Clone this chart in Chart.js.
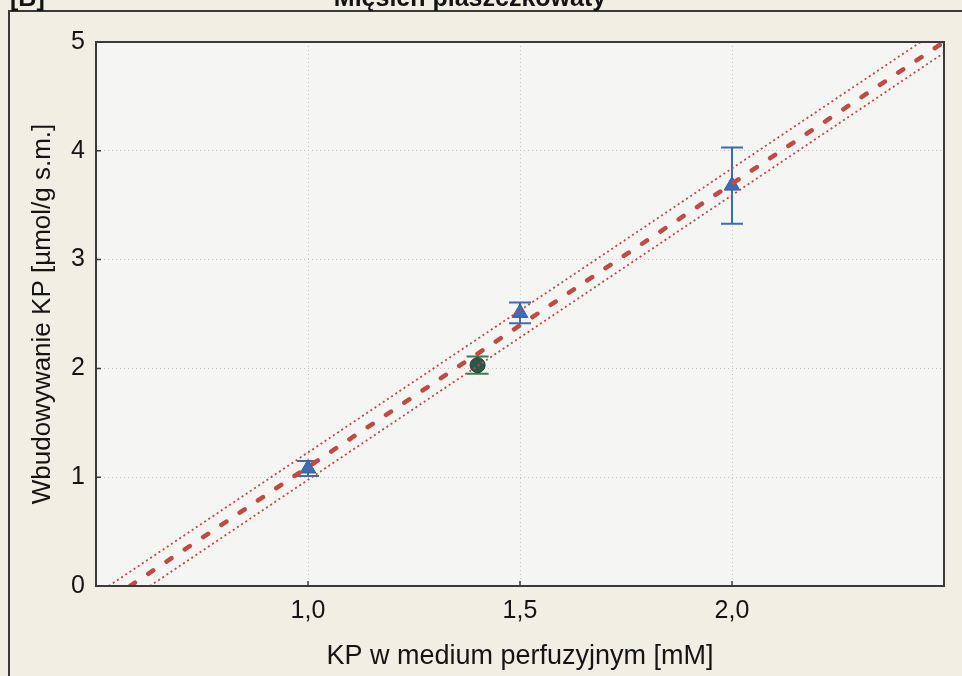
<!DOCTYPE html>
<html><head><meta charset="utf-8">
<script src="https://cdn.jsdelivr.net/npm/chart.js@4.4.1/dist/chart.umd.min.js"></script>
<style>html,body{margin:0;padding:0;background:#f1eee4;}canvas{display:block;}</style>
</head><body>
<canvas id="c" width="962" height="676"></canvas>
<script>
// ---- texts ----
const panelLabel = "[B]";
const chartTitle = "Mięsień płaszczkowaty";
const xAxisTitle = "KP w medium perfuzyjnym [mM]";
const yAxisTitle = "Wbudowywanie KP [µmol/g s.m.]";
// ---- ticks ----
const xTickValues = [1.0, 1.5, 2.0];
const yTickValues = [0, 1, 2, 3, 4, 5];
// ---- data: triangles (mean ± error) ----
const triX = [1.0, 1.5, 2.0];
const triY = [1.08, 2.51, 3.68];
const triErr = [0.07, 0.095, 0.35];
// ---- data: circle ----
const circX = [1.4];
const circY = [2.03];
const circErr = [0.08];
// ---- regression line and confidence band (end points) ----
const fitX = [0.58, 2.5];
const fitY = [0.0, 5.0];
const upperX = [0.53, 2.445];
const upperY = [0.0, 5.0];
const lowerX = [0.627, 2.5];
const lowerY = [0.0, 4.9];

const pts = (xs, ys) => xs.map((x, i) => ({x: x, y: ys[i]}));
const FONT = '"Liberation Sans", Arial, sans-serif';
const TXT = '#141414';
const RED = '#c24a43';
const BLUE = '#3f6bb3';
const GREEN_FILL = '#2c5849';
const GREEN_BAR = '#3c7a52';

const deco = {
  id: 'deco',
  beforeDraw(chart) {
    const {ctx, chartArea: a, width, height} = chart;
    ctx.save();
    ctx.fillStyle = '#f1eee4';
    ctx.fillRect(0, 0, width, height);
    ctx.strokeStyle = '#3a3a3a';
    ctx.lineWidth = 2;
    ctx.beginPath();
    ctx.moveTo(9, height + 5); ctx.lineTo(9, 11); ctx.lineTo(width + 5, 11);
    ctx.stroke();
    ctx.fillStyle = '#f5f5f3';
    ctx.fillRect(a.left, a.top, a.right - a.left, a.bottom - a.top);
    ctx.fillStyle = TXT;
    ctx.font = 'bold 25px ' + FONT;
    ctx.textBaseline = 'alphabetic';
    ctx.textAlign = 'left';
    ctx.fillText(panelLabel, 10, 6);
    ctx.textAlign = 'center';
    ctx.fillText(chartTitle, 470, 6);
    ctx.restore();
  },
  beforeDatasetsDraw(chart) {
    const {ctx} = chart;
    const xs = chart.scales.x, ys = chart.scales.y;
    const bars = [[triX, triY, triErr, BLUE], [circX, circY, circErr, GREEN_BAR]];
    ctx.save();
    ctx.lineWidth = 2;
    bars.forEach(([X, Y, E, col]) => {
      ctx.strokeStyle = col;
      X.forEach((x, i) => {
        const px = xs.getPixelForValue(x);
        const top = ys.getPixelForValue(Y[i] + E[i]);
        const bot = ys.getPixelForValue(Y[i] - E[i]);
        ctx.beginPath();
        ctx.moveTo(px, top); ctx.lineTo(px, bot);
        ctx.moveTo(px - 11, top); ctx.lineTo(px + 11, top);
        ctx.moveTo(px - 11, bot); ctx.lineTo(px + 11, bot);
        ctx.stroke();
      });
    });
    ctx.restore();
  },
  afterDraw(chart) {
    const {ctx, chartArea: a} = chart;
    const xs = chart.scales.x, ys = chart.scales.y;
    ctx.save();
    ctx.strokeStyle = '#3a3a3a';
    ctx.lineWidth = 2;
    ctx.strokeRect(a.left, a.top, a.right - a.left, a.bottom - a.top);
    ctx.lineWidth = 1.5;
    ctx.beginPath();
    yTickValues.forEach(v => { const p = ys.getPixelForValue(v); ctx.moveTo(a.left, p); ctx.lineTo(a.left + 5, p); });
    xTickValues.forEach(v => { const p = xs.getPixelForValue(v); ctx.moveTo(p, a.bottom); ctx.lineTo(p, a.bottom - 5); });
    ctx.stroke();
    ctx.restore();
  }
};

new Chart(document.getElementById('c'), {
  type: 'scatter',
  data: {
    datasets: [
      {label: 'fit', data: pts(fitX, fitY), showLine: true, borderColor: RED, borderWidth: 4.5,
       borderDash: [6, 16], borderCapStyle: 'round', pointRadius: 0, fill: false},
      {label: 'upper', data: pts(upperX, upperY), showLine: true, borderColor: RED, borderWidth: 1.8,
       borderDash: [2, 3], pointRadius: 0, fill: false},
      {label: 'lower', data: pts(lowerX, lowerY), showLine: true, borderColor: RED, borderWidth: 1.8,
       borderDash: [2, 3], pointRadius: 0, fill: false},
      {label: 'tri', data: pts(triX, triY), pointStyle: 'triangle', pointRadius: 9,
       backgroundColor: BLUE, borderColor: '#34609f', borderWidth: 1},
      {label: 'circ', data: pts(circX, circY), pointStyle: 'circle', pointRadius: 7.5,
       backgroundColor: GREEN_FILL, borderColor: '#1f4034', borderWidth: 1}
    ]
  },
  options: {
    responsive: false,
    animation: false,
    devicePixelRatio: 1,
    layout: {padding: {left: 0, top: 42, right: 18, bottom: 0}},
    plugins: {legend: {display: false}, tooltip: {enabled: false}, title: {display: false}},
    scales: {
      x: {
        type: 'linear', min: 0.5, max: 2.5,
        afterBuildTicks: s => { s.ticks = xTickValues.map(v => ({value: v})); },
        afterFit: s => { s.height = 90; },
        ticks: {callback: v => Number(v).toFixed(1).replace('.', ','), color: TXT,
                font: {family: FONT, size: 25}, padding: 10, maxRotation: 0},
        grid: {color: '#c4c4c4', lineWidth: 1, drawTicks: false},
        border: {display: false, dash: [1, 3]},
        title: {display: true, text: xAxisTitle, color: TXT, font: {family: FONT, size: 27},
                padding: {top: 0, bottom: 3}}
      },
      y: {
        type: 'linear', min: 0, max: 5,
        afterBuildTicks: s => { s.ticks = yTickValues.map(v => ({value: v})); },
        afterFit: s => { s.width = 96; },
        ticks: {callback: v => String(v), color: TXT, font: {family: FONT, size: 25}, padding: 11},
        grid: {color: '#c4c4c4', lineWidth: 1, drawTicks: false},
        border: {display: false, dash: [1, 3]},
        title: {display: true, text: yAxisTitle, color: TXT, font: {family: FONT, size: 26},
                padding: {top: 27, bottom: 0}}
      }
    }
  },
  plugins: [deco]
});
</script>
</body></html>
